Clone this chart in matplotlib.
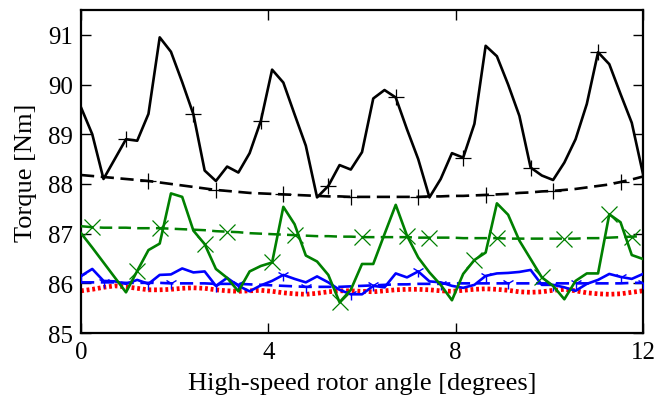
import numpy as np
import matplotlib
matplotlib.use("Agg")
import matplotlib.pyplot as plt

plt.rcParams['font.family'] = ['Liberation Serif', 'DejaVu Serif']
plt.rcParams['mathtext.fontset'] = 'stix'

angle = np.linspace(0, 12, 51)

black_solid = [89.54, 89.00, 88.10, 88.50, 88.90, 88.87, 89.41, 90.95, 90.66, 90.05,
               89.40, 88.27, 88.06, 88.35, 88.23, 88.62, 89.27, 90.30, 90.04, 89.40,
               88.77, 87.73, 87.96, 88.38, 88.29, 88.64, 89.72, 89.89, 89.74, 89.10,
               88.50, 87.73, 88.10, 88.62, 88.53, 89.21, 90.78, 90.57, 90.00, 89.37,
               88.33, 88.17, 88.08, 88.43, 88.90, 89.61, 90.65, 90.41, 89.81, 89.23,
               88.20]

black_dashed = [88.18, 88.16, 88.14, 88.12, 88.10, 88.08, 88.06, 88.03, 88.00, 87.97,
                87.94, 87.91, 87.88, 87.86, 87.84, 87.82, 87.81, 87.80, 87.79, 87.78,
                87.77, 87.76, 87.75, 87.75, 87.74, 87.74, 87.74, 87.74, 87.74, 87.74,
                87.74, 87.75, 87.75, 87.76, 87.76, 87.77, 87.78, 87.79, 87.80, 87.82,
                87.83, 87.85, 87.86, 87.88, 87.90, 87.93, 87.96, 87.99, 88.04, 88.09,
                88.15]

green_solid = [87.01, 86.72, 86.42, 86.12, 85.82, 86.25, 86.67, 86.80, 87.81, 87.74,
               87.06, 86.79, 86.29, 86.11, 85.84, 86.24, 86.35, 86.42, 87.54, 87.19,
               86.56, 86.44, 86.17, 85.62, 85.87, 86.39, 86.39, 86.99, 87.58, 86.96,
               86.52, 86.22, 85.97, 85.66, 86.19, 86.47, 86.62, 87.61, 87.38, 86.86,
               86.49, 86.12, 85.95, 85.68, 86.05, 86.20, 86.20, 87.39, 87.23, 86.57,
               86.49]

green_dashed = [87.15, 87.13, 87.12, 87.12, 87.12, 87.11, 87.11, 87.11, 87.10, 87.09,
                87.08, 87.07, 87.05, 87.04, 87.03, 87.01, 87.00, 86.99, 86.98, 86.97,
                86.96, 86.95, 86.95, 86.94, 86.94, 86.93, 86.93, 86.93, 86.93, 86.93,
                86.92, 86.92, 86.92, 86.92, 86.91, 86.91, 86.91, 86.91, 86.90, 86.90,
                86.90, 86.90, 86.90, 86.90, 86.90, 86.91, 86.91, 86.92, 86.93, 86.94,
                86.95]

blue_solid = [86.15, 86.29, 86.05, 86.04, 85.99, 86.07, 85.99, 86.17, 86.18, 86.30,
              86.22, 86.24, 85.95, 86.11, 85.95, 85.84, 85.96, 86.05, 86.17, 86.09,
              86.02, 86.14, 86.02, 85.87, 85.78, 85.78, 85.95, 85.92, 86.20, 86.12,
              86.24, 86.04, 86.02, 85.95, 85.91, 85.97, 86.15, 86.20, 86.21, 86.23,
              86.27, 85.97, 85.97, 85.92, 85.85, 85.99, 86.07, 86.19, 86.13, 86.09,
              86.19]

blue_dashed = [86.02, 86.02, 86.02, 86.02, 86.01, 86.01, 86.01, 86.01, 86.00, 86.00,
               86.00, 86.00, 85.99, 85.99, 85.99, 85.98, 85.97, 85.96, 85.95, 85.94,
               85.93, 85.93, 85.93, 85.93, 85.94, 85.95, 85.96, 85.97, 85.98, 85.98,
               85.99, 85.99, 85.99, 86.00, 86.00, 86.00, 86.00, 86.00, 86.00, 86.00,
               86.00, 86.00, 86.00, 86.00, 86.00, 86.00, 86.00, 86.00, 86.00, 86.01,
               86.01]

red_dotted = [85.85, 85.88, 85.92, 85.95, 85.93, 85.90, 85.87, 85.87, 85.88, 85.90,
              85.91, 85.90, 85.87, 85.85, 85.84, 85.85, 85.86, 85.84, 85.81, 85.79,
              85.78, 85.80, 85.83, 85.85, 85.85, 85.84, 85.83, 85.85, 85.87, 85.88,
              85.88, 85.87, 85.85, 85.84, 85.86, 85.88, 85.89, 85.88, 85.86, 85.83,
              85.82, 85.83, 85.86, 85.88, 85.85, 85.81, 85.79, 85.78, 85.79, 85.82,
              85.85]

xticks = [0, 4, 8, 12]
yticks = [85, 86, 87, 88, 89, 90, 91]

fig = plt.figure(figsize=(6.55, 4.02), dpi=100)
ax = fig.add_axes([0.1237, 0.169, 0.858, 0.8036])

ax.plot(angle, red_dotted, color='#ff0000', lw=3.4, linestyle=(0, (0.6, 0.6)), zorder=2)
ax.plot(angle, blue_dashed, color='#0000ff', lw=1.9, linestyle=(0, (5, 2.5)),
        marker='1', ms=9, mew=1.0, markevery=(2, 6), zorder=3)
ax.plot(angle, blue_solid, color='#0000ff', lw=1.9,
        marker='1', ms=9, mew=1.0, markevery=(0, 6), zorder=3)
ax.plot(angle, green_dashed, color='#008000', lw=1.8, linestyle=(0, (5, 2.5)),
        marker='x', ms=11, mew=0.9, markevery=(1, 6), zorder=3)
ax.plot(angle, green_solid, color='#008000', lw=1.9,
        marker='x', ms=11, mew=0.9, markevery=(5, 6), zorder=3)
ax.plot(angle, black_dashed, color='black', lw=1.9, linestyle=(0, (5, 2.5)),
        marker='+', ms=11, mew=0.9, markevery=(6, 6), zorder=4)
ax.plot(angle, black_solid, color='black', lw=1.9,
        marker='+', ms=12, mew=0.9, markevery=(4, 6), zorder=4)

ax.set_xlim(0, 12)
ax.set_ylim(85, 91.5)
ax.set_xticks(xticks)
ax.set_yticks(yticks)
ax.tick_params(direction='in', top=True, right=True, length=7, width=1.0,
               labelsize=18, pad=6)
for s in ax.spines.values():
    s.set_linewidth(1.6)
ax.set_xlabel('High-speed rotor angle [degrees]', fontsize=19, labelpad=6)
ax.set_ylabel('Torque [Nm]', fontsize=19, labelpad=8)

fig.savefig('out.png', dpi=100)
